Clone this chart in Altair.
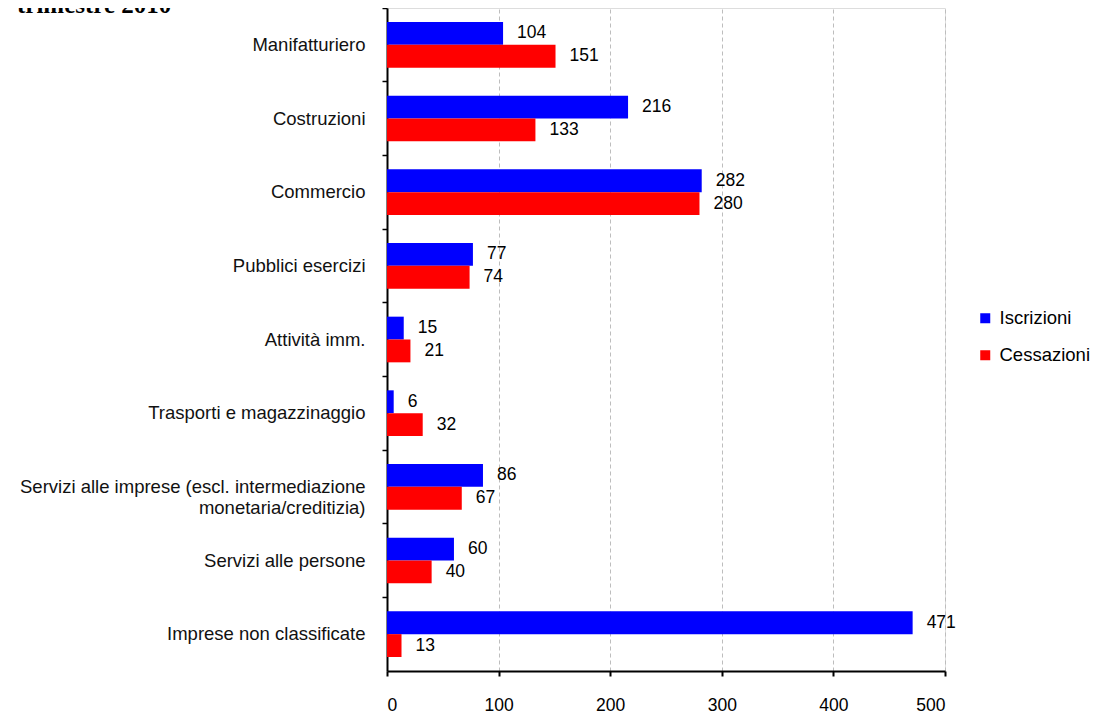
import altair as alt
import pandas as pd

categories = [
    "Manifatturiero",
    "Costruzioni",
    "Commercio",
    "Pubblici esercizi",
    "Attività imm.",
    "Trasporti e magazzinaggio",
    "Servizi alle imprese (escl. intermediazione\nmonetaria/creditizia)",
    "Servizi alle persone",
    "Imprese non classificate",
]
series = ["Iscrizioni", "Cessazioni"]
iscrizioni = [104, 216, 282, 77, 15, 6, 86, 60, 471]
cessazioni = [151, 133, 280, 74, 21, 32, 67, 40, 13]
x_ticks = [0, 100, 200, 300, 400, 500]
title_text = "trimestre 2010"

rows = []
for c, a, b in zip(categories, iscrizioni, cessazioni):
    rows.append({"cat": c, "series": "Iscrizioni", "value": a})
    rows.append({"cat": c, "series": "Cessazioni", "value": b})
df = pd.DataFrame(rows)

FONT = "Liberation Sans"

base = alt.Chart(df).encode(
    x=alt.X(
        "value:Q",
        scale=alt.Scale(domain=[0, 500], nice=False),
        axis=alt.Axis(
            values=x_ticks, title=None, grid=True, gridDash=[4, 3],
            gridColor="#bdbdbd", gridWidth=1, domainColor="black",
            domainWidth=2, tickColor="black", tickWidth=2, tickSize=5,
            labelFontSize=17.5, labelFont=FONT, labelColor="black",
            labelPadding=20,
        ),
    ),
    y=alt.Y(
        "cat:N", sort=categories,
        scale=alt.Scale(paddingInner=0.38, paddingOuter=0.19),
        axis=alt.Axis(
            title=None, domainColor="black", domainWidth=2,
            tickColor="black", tickWidth=1.5, tickSize=5, bandPosition=-0.306,
            labelFontSize=18.5, labelFont=FONT, labelColor="#111111",
            labelPadding=17, labelLimit=500, labelLineHeight=21,
            labelExpr="split(datum.value, '\\n')",
        ),
    ),
    yOffset=alt.YOffset("series:N", sort=series, scale=alt.Scale(domain=series)),
)

bars = base.mark_bar().encode(
    color=alt.Color(
        "series:N",
        scale=alt.Scale(domain=series, range=["#0000ff", "#ff0000"]),
        legend=alt.Legend(
            title=None, orient="none", legendX=589, legendY=301,
            symbolType="square", symbolSize=100, symbolStrokeWidth=0,
            labelFontSize=18.5, labelFont=FONT, labelColor="black",
            labelOffset=5, rowPadding=18, labelLimit=200,
        ),
    )
)

labels = base.mark_text(
    align="left", baseline="middle", dx=14, fontSize=17.5, font=FONT, color="black"
).encode(text="value:Q")

title = alt.Chart(pd.DataFrame({"t": [title_text]})).mark_text(
    align="left", baseline="alphabetic", font="Liberation Serif",
    fontWeight="bold", fontSize=25, color="black",
).encode(text="t:N", x=alt.value(-370), y=alt.value(5))

chart = alt.layer(bars, labels, title).properties(
    width=558, height=663,
    padding={"left": 379, "top": 0, "right": 146, "bottom": 42},
    autosize=alt.AutoSizeParams(type="none"),
).configure_view(stroke=None).configure(background="white")

chart.save("out.html", embed_options={"renderer": "svg", "actions": False})
